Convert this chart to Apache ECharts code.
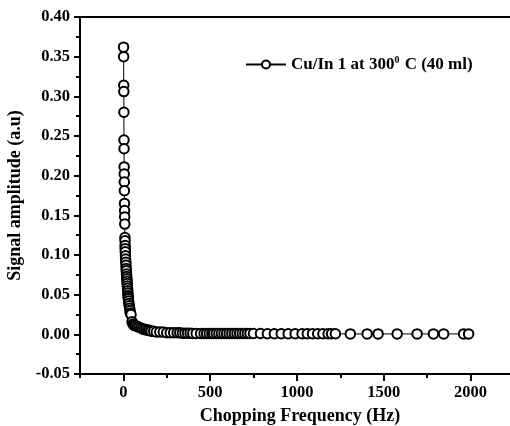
<!DOCTYPE html>
<html>
<head>
<meta charset="utf-8">
<script src="https://cdn.jsdelivr.net/npm/echarts@6/dist/echarts.min.js"></script>
<style>
html, body { margin: 0; padding: 0; background: #fff; }
#chart { width: 510px; height: 426px; }
</style>
</head>
<body>
<div id="chart"></div>
<script>
// chopping frequency (Hz)
var freq = [1, 1.5, 2, 2.5, 3, 3.5, 4, 4.5, 5, 5.5, 6, 6.5, 7, 7.5, 8, 9, 9.5, 10, 10.5, 11,
    12, 13, 14, 15, 16, 17, 18, 19, 20, 21, 22, 23, 24, 25, 26, 27, 28, 29, 30, 32,
    34, 36, 38, 40, 44, 50, 55, 60, 65, 70, 80, 90, 100, 110, 120, 130, 140, 150, 160, 175,
    190, 210, 230, 250, 270, 290, 310, 325, 340, 355, 370, 385, 400, 420, 445, 465, 480, 495,
    510, 520, 535, 550, 565, 580, 595, 610, 625, 640, 655, 670, 685, 700, 715, 730, 750, 790,
    830, 870, 910, 950, 990, 1030, 1060, 1090, 1120, 1150, 1180, 1200, 1222, 1308, 1405, 1468, 1578, 1693,
    1787, 1846, 1961, 1990];
// signal amplitude (a.u)
var amp = [0.362, 0.350, 0.314, 0.306, 0.280, 0.245, 0.234, 0.211, 0.202, 0.192, 0.181, 0.165, 0.156, 0.148, 0.139, 0.122, 0.118, 0.112, 0.108, 0.104,
    0.099, 0.095, 0.091, 0.087, 0.083, 0.080, 0.076, 0.073, 0.070, 0.067, 0.064, 0.061, 0.058, 0.055, 0.052, 0.049, 0.047, 0.045, 0.042, 0.039,
    0.036, 0.033, 0.030, 0.027, 0.025, 0.016, 0.013, 0.012, 0.011, 0.011, 0.010, 0.009, 0.008, 0.007, 0.006, 0.006, 0.005, 0.005, 0.004, 0.004,
    0.003, 0.003, 0.003, 0.002, 0.002, 0.002, 0.002, 0.002, 0.0015, 0.0015, 0.0015, 0.0015, 0.001, 0.001, 0.001, 0.001, 0.001, 0.001,
    0.001, 0.001, 0.001, 0.001, 0.001, 0.001, 0.001, 0.001, 0.001, 0.001, 0.001, 0.001, 0.001, 0.001, 0.001, 0.001, 0.001, 0.001,
    0.0008, 0.0008, 0.0008, 0.0008, 0.0008, 0.0008, 0.0008, 0.0008, 0.0008, 0.0008, 0.0008, 0.0008, 0.0008, 0.0005, 0.0005, 0.0005, 0.0005, 0.0005,
    0.0005, 0.0005, 0.0005, 0.0005];
var xLabels = [0, 500, 1000, 1500, 2000];
var seriesName = 'Cu/In 1 at 300{sup|0} C (40 ml)';

var points = freq.map(function (f, i) {
    return [f, amp[i]];
});

var font = 'Liberation Serif';
var xMin = -250, xMax = 2286;
var chart = echarts.init(document.getElementById('chart'));
var option = {
    animation: false,
    grid: { left: 80, top: 17, right: -10, bottom: 52, outerBoundsMode: 'none', containLabel: false },
    legend: {
        left: 245, top: 55, padding: 0,
        itemWidth: 40, itemHeight: 10, itemGap: 4,
        data: ['main'],
        formatter: function () { return seriesName; },
        textStyle: {
            fontFamily: font, fontWeight: 'bold', fontSize: 17, color: '#000',
            rich: {
                sup: { fontFamily: font, fontWeight: 'bold', fontSize: 10, color: '#000', verticalAlign: 'top', padding: [0, 1, 9, 0] }
            }
        }
    },
    xAxis: [{
        type: 'value', min: xMin, max: xMax, interval: 250,
        splitLine: { show: false },
        axisLine: { onZero: false, lineStyle: { color: '#000', width: 2 } },
        axisTick: { length: 4, lineStyle: { color: '#000', width: 2 } },
        axisLabel: {
            customValues: xLabels, margin: 10,
            formatter: function (v) { return String(v); },
            fontFamily: font, fontWeight: 'bold', fontSize: 16.5, color: '#000'
        },
        name: 'Chopping Frequency (Hz)', nameLocation: 'middle', nameGap: 33,
        nameTextStyle: { fontFamily: font, fontWeight: 'bold', fontSize: 18, color: '#000' }
    }, {
        type: 'value', min: xMin, max: xMax, interval: 250, position: 'bottom',
        splitLine: { show: false },
        axisLine: { show: false, onZero: false },
        axisTick: { length: 7, customValues: xLabels, lineStyle: { color: '#000', width: 2 } },
        axisLabel: { show: false }
    }, {
        type: 'value', min: xMin, max: xMax, interval: 250, position: 'top',
        splitLine: { show: false },
        axisLine: { onZero: false, lineStyle: { color: '#000', width: 2 } },
        axisTick: { show: false },
        axisLabel: { show: false }
    }],
    yAxis: {
        type: 'value', min: -0.05, max: 0.40, interval: 0.05,
        splitLine: { show: false },
        axisLine: { onZero: false, lineStyle: { color: '#000', width: 2 } },
        axisTick: { length: 6, lineStyle: { color: '#000', width: 2 } },
        minorTick: { show: true, splitNumber: 2, length: 4, lineStyle: { color: '#000', width: 2 } },
        axisLabel: {
            margin: 10,
            formatter: function (v) { return v.toFixed(2); },
            fontFamily: font, fontWeight: 'bold', fontSize: 16.5, color: '#000'
        },
        name: 'Signal amplitude (a.u)', nameLocation: 'middle', nameGap: 53,
        nameTextStyle: { fontFamily: font, fontWeight: 'bold', fontSize: 18, color: '#000' }
    },
    series: [{
        name: 'main',
        type: 'line',
        data: points,
        symbol: 'emptyCircle',
        symbolSize: 9.5,
        showAllSymbol: true,
        itemStyle: { color: '#000', borderColor: '#000', borderWidth: 1.3 },
        lineStyle: { color: '#000', width: 1 }
    }]
};
chart.setOption(option);
</script>
</body>
</html>
